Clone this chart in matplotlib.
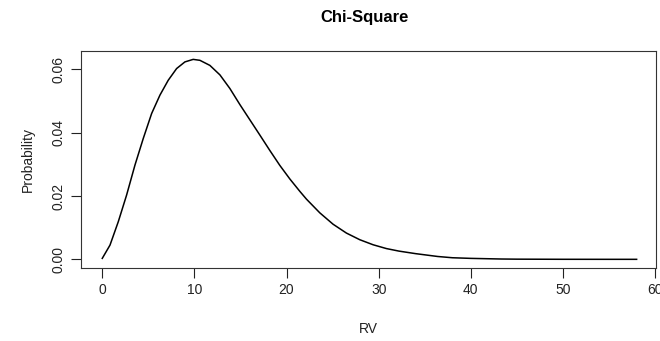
import matplotlib
matplotlib.use("Agg")
import matplotlib.pyplot as plt

plt.rcParams['font.family'] = ['Liberation Sans', 'DejaVu Sans']

# values
rv = [0, 0.84, 1.74, 2.64, 3.55, 4.45, 5.36, 6.26, 7.16, 8.07, 8.97, 9.87, 10.6,
      11.68, 12.77, 13.85, 14.94, 16.02, 17.1, 18.19, 19.27, 20.36, 21.44, 22.17,
      23.61, 25.05, 26.5, 27.95, 29.4, 30.84, 32.2, 34.0, 36.4, 38, 40, 43.3, 45,
      50, 55, 58]
prob = [0.0003, 0.0045, 0.0119, 0.0203, 0.0298, 0.0382, 0.0461, 0.0519, 0.0566,
        0.0603, 0.0624, 0.0632, 0.0629, 0.0613, 0.0583, 0.0540, 0.0489, 0.0441,
        0.0393, 0.0344, 0.0297, 0.0254, 0.0215, 0.0190, 0.0147, 0.0111, 0.0083,
        0.0062, 0.0046, 0.0034, 0.0026, 0.0018, 0.0009, 0.0005, 0.0003, 0.0001,
        0.00005, 0.00001, 0.0, 0.0]

xticks = [0, 10, 20, 30, 40, 50, 60]
yticks = [0.00, 0.02, 0.04, 0.06]

fig = plt.figure(figsize=(6.6, 3.41), dpi=100)
ax = fig.add_axes([0.1227, 0.214, 0.8705, 0.636])

ax.plot(rv, prob, color="black", lw=1.1, solid_joinstyle="round")

ax.set_xlim(-2.31, 60.05)
ax.set_ylim(-0.00275, 0.0658)
ax.set_xticks(xticks)
ax.set_xticklabels([str(t) for t in xticks])
ax.set_yticks(yticks)
ax.set_yticklabels(["%.2f" % t for t in yticks], rotation=90, va="center")
ax.tick_params(direction="out", length=7, width=0.8, labelsize=10, colors="#222222", pad=4)
for s in ax.spines.values():
    s.set_linewidth(0.8)
    s.set_color("#333333")

ax.set_xlabel("RV", fontsize=10, labelpad=18, color="#222222")
ax.set_ylabel("Probability", fontsize=10, labelpad=12, color="#222222")
fig.text(0.553, 0.95, "Chi-Square", ha="center", va="center", fontsize=12, fontweight="bold")

fig.savefig("out.png", dpi=100)
